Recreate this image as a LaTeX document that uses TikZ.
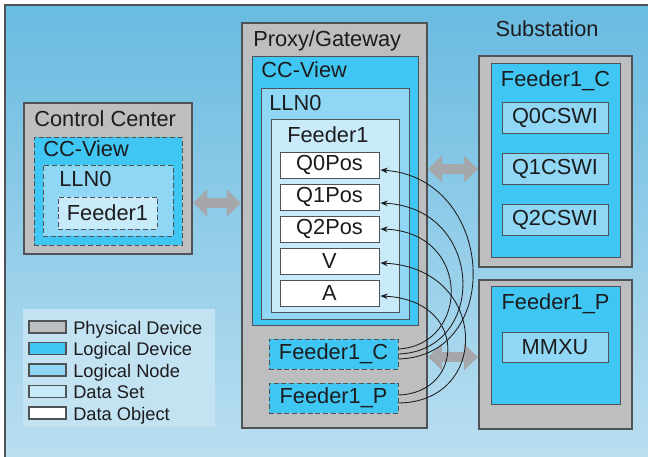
\documentclass[tikz,border=0pt]{standalone}
\usepackage{fontspec}
\setmainfont{Liberation Sans}
\usetikzlibrary{arrows.meta,
                calc
            }

\definecolor{physgray}{HTML}{BCBEC0}
\definecolor{ldblue}{HTML}{3FC6F2}
\definecolor{lnblue}{HTML}{8FD7F5}
\definecolor{dsblue}{HTML}{C9EAF8}
\definecolor{edgegray}{HTML}{4F5356}
\definecolor{arrowgray}{HTML}{A5A7AA}
\definecolor{bgtop}{HTML}{69BBE1}
\definecolor{bgbot}{HTML}{BADEF0}
\definecolor{keybg}{HTML}{C4E3F2}
\definecolor{inkcol}{HTML}{1C1C1E}

\tikzset{
    box/.style={draw=edgegray, line width=0.6pt, inner sep=0pt, text=inkcol,
                font=\fontsize{15.5}{18}\selectfont},
    pdev/.style={box, fill=physgray, line width=0.9pt},
    ldev/.style={box, fill=ldblue},
    lnode/.style={box, fill=lnblue},
    dset/.style={box, fill=dsblue},
    dobj/.style={box, fill=white, minimum width=2.475cm, minimum height=0.65cm},
    mirror/.style={dash pattern=on 3.5pt off 2pt},
    title/.style={anchor=base west, inner sep=0pt, text=inkcol,
                  font=\fontsize{15.5}{18}\selectfont},
    keybox/.style={draw=edgegray, line width=0.8pt, minimum width=0.925cm,
                   minimum height=0.3cm, inner sep=0pt},
    keytext/.style={anchor=base west, inner sep=0pt, text=inkcol,
                    font=\fontsize{13}{15}\selectfont},
    bigarrow/.style={arrowgray, line width=0.25cm,
                     {Triangle[width=0.65cm, length=0.35cm]}-{Triangle[width=0.65cm, length=0.35cm]}},
    link/.style={inkcol, line width=0.6pt, -{Stealth[length=1.8mm, width=1.4mm]}}
}

\begin{document}
\begin{tikzpicture}[x=0.025cm, y=-0.025cm]
            \useasboundingbox (0,0) rectangle (648,457);
            % frame
            \fill[top color=bgtop, bottom color=bgbot] (5,5) rectangle (648,457);
            \draw[edgegray, line width=1.2pt] (5,457) -- (5,5) -- (648,5);

            % control center
            \node[pdev, minimum width=4.2cm, minimum height=3.775cm] (cc) at (108,178.5) {};
            \node[ldev, mirror, minimum width=3.7cm, minimum height=2.7cm] (ccview) at (108,191) {};
            \node[lnode, mirror, minimum width=3.25cm, minimum height=1.775cm] (cclln) at (108,200.5) {};
            \node[dset, mirror, minimum width=2.475cm, minimum height=0.8cm] (ccfeed) at (107.5,213) {Feeder1};
            \node[title] (cctitle) at (34,127) {Control Center};
            \node[title] (ccviewtitle) at (43,157) {CC-View};
            \node[title] (ccllntitle) at (59,187) {LLN0};

            % proxy / gateway
            \node[pdev, minimum width=4.625cm, minimum height=10.125cm] (gw) at (334.5,225.5) {};
            \node[ldev, minimum width=4.15cm, minimum height=6.725cm] (gwview) at (335,190.5) {};
            \node[lnode, minimum width=3.7cm, minimum height=5.775cm] (gwlln) at (335,203.5) {};
            \node[dset, minimum width=3.2cm, minimum height=4.825cm] (gwfeed) at (335,215.5) {};
            \node[title] (gwtitle) at (253,47) {Proxy/Gateway};
            \node[title] (gwviewtitle) at (261,78) {CC-View};
            \node[title] (gwllntitle) at (269,111) {LLN0};
            \node[title] (gwfeedtitle) at (287,143) {Feeder1};
            \node[dobj] (q0) at (329.5,165) {Q0Pos};
            \node[dobj] (q1) at (329.5,197) {Q1Pos};
            \node[dobj] (q2) at (329.5,229) {Q2Pos};
            \node[dobj] (v) at (329.5,261) {V};
            \node[dobj] (a) at (329.5,293) {A};
            \node[ldev, mirror, minimum width=3.225cm, minimum height=0.75cm] (fc) at (333.5,354) {Feeder1\_C};
            \node[ldev, mirror, minimum width=3.225cm, minimum height=0.75cm] (fp) at (333.5,398) {Feeder1\_P};

            % substation
            \node[title, anchor=base] (subtitle) at (547,37) {Substation};
            \node[pdev, minimum width=3.825cm, minimum height=5.275cm] (subc) at (555.5,161.5) {};
            \node[ldev, minimum width=3.225cm, minimum height=4.85cm] (subcdev) at (555.5,160) {};
            \node[title, anchor=base] (subctitle) at (555.5,87) {Feeder1\_C};
            \node[lnode, minimum width=2.65cm, minimum height=0.775cm] (cswi0) at (555,117.5) {Q0CSWI};
            \node[lnode, minimum width=2.65cm, minimum height=0.775cm] (cswi1) at (555,168.5) {Q1CSWI};
            \node[lnode, minimum width=2.65cm, minimum height=0.775cm] (cswi2) at (555,220) {Q2CSWI};
            \node[pdev, minimum width=3.825cm, minimum height=3.725cm] (subp) at (555.5,354.5) {};
            \node[ldev, minimum width=3.225cm, minimum height=2.95cm] (subpdev) at (555.5,345) {};
            \node[title, anchor=base] (subptitle) at (555.5,310) {Feeder1\_P};
            \node[lnode, minimum width=2.65cm, minimum height=0.75cm] (mmxu) at (555,347) {MMXU};

            % exchange arrows
            \coordinate (ccgw) at (217,203);
            \coordinate (gwsubc) at (453,169);
            \coordinate (gwsubp) at (453,357);
            \draw[bigarrow, shorten <=0.3pt, shorten >=0.3pt] (cc.east |- ccgw) -- (gw.west |- ccgw);
            \draw[bigarrow, shorten <=0.3pt, shorten >=0.3pt] (gw.east |- gwsubc) -- (subc.west |- gwsubc);
            \draw[bigarrow, shorten <=0.3pt, shorten >=0.3pt] (gw.east |- gwsubp) -- (subp.west |- gwsubp);

            % mappings
            \draw[link] ($(fc.east)+(0,5)$) .. controls (505,356) and (495,178) .. ($(q0.east)+(1,5)$);
            \draw[link] ($(fc.east)+(0,0)$) .. controls (488,351) and (485,208) .. ($(q1.east)+(1,6)$);
            \draw[link] ($(fc.east)+(0,-5)$) .. controls (470,345) and (472,232) .. ($(q2.east)+(1,0)$);
            \draw[link] ($(fp.east)+(0,5)$) .. controls (492,402) and (488,268) .. ($(v.east)+(1,2)$);
            \draw[link] ($(fp.east)+(0,-3)$) .. controls (465,393) and (468,300) .. ($(a.east)+(1,3)$);

            % key
            \node[fill=keybg, minimum width=4.8cm, minimum height=2.95cm, inner sep=0pt] (key) at (119,368) {};
            \node[keybox, fill=physgray] (keypd) at (47.5,327) {};
            \node[keybox, fill=ldblue] (keyld) at (47.5,348.5) {};
            \node[keybox, fill=lnblue] (keyln) at (47.5,370) {};
            \node[keybox, fill=dsblue] (keyds) at (47.5,391.5) {};
            \node[keybox, fill=white] (keydo) at (47.5,413) {};
            \node[keytext] (keypdtext) at (73,334) {Physical Device};
            \node[keytext] (keyldtext) at (73,355.5) {Logical Device};
            \node[keytext] (keylntext) at (73,377) {Logical Node};
            \node[keytext] (keydstext) at (73,398.5) {Data Set};
            \node[keytext] (keydotext) at (73,420) {Data Object};
        \end{tikzpicture}
\end{document}
